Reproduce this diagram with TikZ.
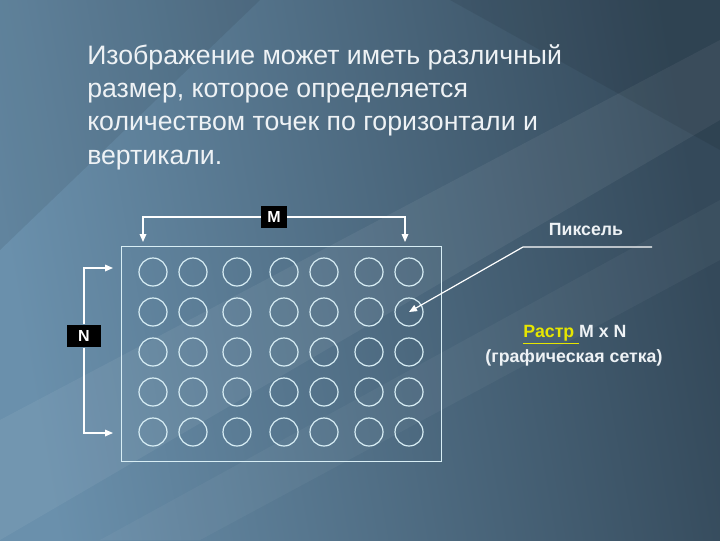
\documentclass[tikz,border=0pt]{standalone}
\usepackage{fontspec}
\setmainfont{Liberation Sans}
\usetikzlibrary{arrows.meta}
\definecolor{bgA}{HTML}{6A90AC}
\definecolor{bgB}{HTML}{3E5A6E}
\definecolor{bgC}{HTML}{34495A}
\definecolor{lineC}{HTML}{D8EEF5}
\definecolor{txt}{HTML}{EEF2F5}
\definecolor{yel}{HTML}{E6E600}
\tikzset{
  pix/.style={draw=lineC, line width=0.9pt, circle, minimum size=21pt, inner sep=0pt},
  lbl/.style={fill=black, text=white, font=\bfseries\fontsize{12}{13}\selectfont, minimum width=19pt, minimum height=16.5pt, inner sep=1pt},
  conn/.style={draw=white, line width=0.9pt},
  arr/.style={conn, -{Triangle[length=6pt,width=5pt]}},
  side/.style={font=\bfseries\fontsize{13.3}{15}\selectfont, text=txt},
}
\begin{document}
\begin{tikzpicture}[x=0.75pt,y=-0.75pt]
\useasboundingbox (0,0) rectangle (720,540);
\shade[left color=bgA, right color=bgC, shading angle=100] (0,0) rectangle (720,540);
\fill[white, opacity=0.06] (0,420) -- (720,40) -- (720,120) -- (0,540) -- cycle;
\fill[white, opacity=0.04] (100,540) -- (720,200) -- (720,260) -- (200,540) -- cycle;
\fill[black, opacity=0.08] (0,0) -- (260,0) -- (0,250) -- cycle;
\fill[black, opacity=0.08] (450,0) -- (720,0) -- (720,150) -- cycle;
\node[anchor=north west, align=left, text=txt, font=\fontsize{20}{25}\selectfont, inner sep=0pt] (title) at (87,44)
 {Изображение может иметь различный\\размер, которое определяется\\количеством точек по горизонтали и\\вертикали.};
\node[draw=lineC, line width=0.9pt, minimum width=240pt, minimum height=161.25pt, inner sep=0pt, anchor=north west] (grid) at (121,246) {};
\foreach \r [count=\i] in {272,312,352,392,432}{
  \foreach \c [count=\j] in {153,193,237,284,324,369,409}{
    \node[pix] (p\i\j) at (\c,\r) {};
  }
}
\node[lbl] (M) at (274,217) {M};
\coordinate (ml) at (143,217); \coordinate (mla) at (143,242);
\coordinate (mr) at (405,217); \coordinate (mra) at (405,242);
\draw[arr] (M.west) -- (ml) -- (mla);
\draw[arr] (M.east) -- (mr) -- (mra);
\node[lbl, minimum width=25pt, minimum height=17pt] (N) at (84,336) {N};
\coordinate (nt) at (84,268); \coordinate (nta) at (113,268);
\coordinate (nb) at (84,433); \coordinate (nba) at (113,433);
\draw[arr] (N.north) -- (nt) -- (nta);
\draw[arr] (N.south) -- (nb) -- (nba);
\node[side] (pixel) at (586,229) {Пиксель};
\coordinate (pe) at (652,247); \coordinate (pm) at (523,247);
\draw[arr] (pe) -- (pm) -- (p27.center);
\node[side] (raster) at (575,335) {\textcolor{yel}{\underline{Растр }}M x N};
\node[side] (sub) at (574,358) {(графическая сетка)};
\end{tikzpicture}
\end{document}
